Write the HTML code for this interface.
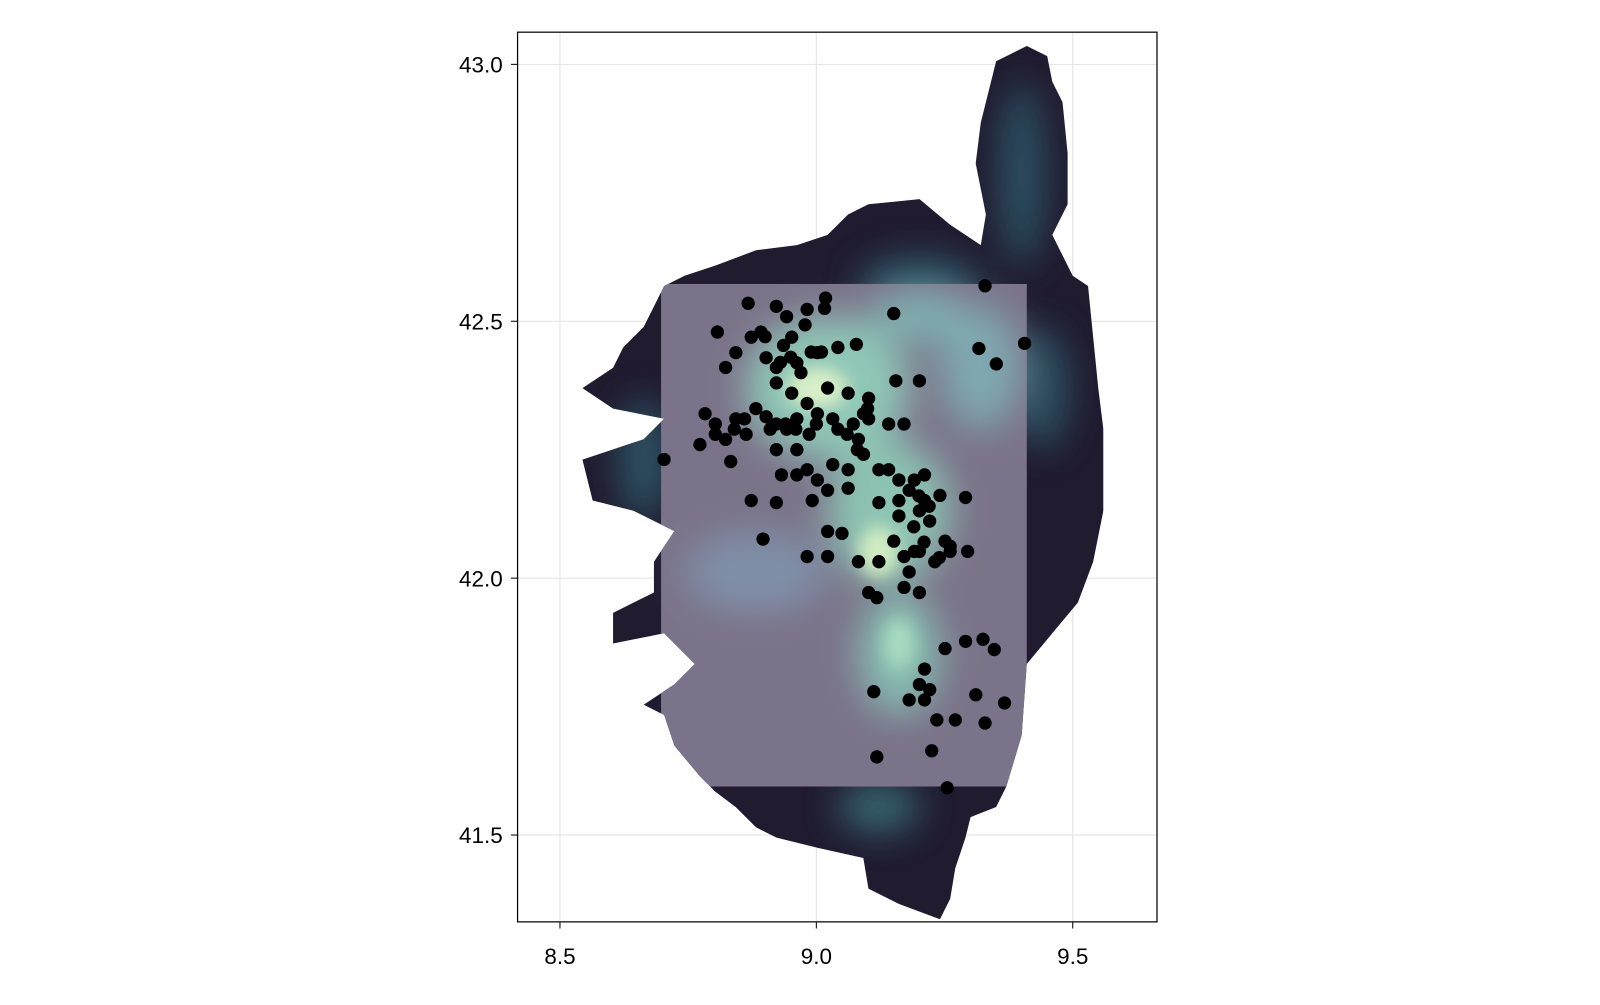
<!DOCTYPE html>
<html><head><meta charset="utf-8"><style>
body{margin:0;background:#fff;width:1600px;height:1000px;overflow:hidden;font-family:"Liberation Sans",sans-serif}
</style></head><body>
<svg id="chart" width="1600" height="1000" viewBox="0 0 1566 979" xmlns="http://www.w3.org/2000/svg">
<defs>
<clipPath id="island"><polygon id="outline" points="975,60 1005,45 1025,55 1030,80 1040,100 1045,150 1045,200 1030,230 1050,270 1065,280 1070,330 1075,380 1080,420 1080,500 1070,550 1055,590 1030,620 1005,650 1000,720 985,770 975,790 950,800 945,820 935,850 930,880 920,900 880,885 850,870 845,840 800,830 760,820 740,810 720,790 700,775 685,760 660,730 650,700 630,690 660,670 680,650 650,620 600,630 600,600 640,580 640,550 660,520 620,500 580,490 570,450 630,430 650,410 600,400 570,380 600,360 610,340 630,320 650,280 670,270 700,260 740,245 780,240 810,230 830,210 850,200 900,195 930,220 960,240 965,210 955,160 960,120 970,80"/></clipPath>
<filter id="blur" x="-50%" y="-50%" width="200%" height="200%"><feGaussianBlur stdDeviation="18"/></filter>
<filter id="blur2" x="-50%" y="-50%" width="200%" height="200%"><feGaussianBlur stdDeviation="8"/></filter>
</defs>
<g stroke="#e2e2e2" stroke-width="1" id="grid"></g>
<g clip-path="url(#island)">
<rect x="500" y="30" width="640" height="880" fill="#211b30"/>
<g filter="url(#blur)" opacity="0.9">
<ellipse cx="1000" cy="170" rx="22" ry="90" fill="#2f5a6a"/>
<ellipse cx="900" cy="280" rx="60" ry="30" fill="#2f5a6a"/>
<ellipse cx="1020" cy="380" rx="25" ry="60" fill="#2f5a6a"/>
<ellipse cx="630" cy="450" rx="25" ry="60" fill="#2f5a6a"/>
<ellipse cx="860" cy="790" rx="40" ry="25" fill="#3a6f7a"/>
</g>
<rect x="647" y="278" width="358" height="492" fill="#7b7389"/>
<g filter="url(#blur)">
<ellipse cx="810" cy="380" rx="80" ry="70" fill="#8fc7b7"/>
<ellipse cx="870" cy="500" rx="60" ry="70" fill="#8cc3b3"/>
<ellipse cx="880" cy="640" rx="40" ry="60" fill="#86bcb1"/>
<ellipse cx="960" cy="360" rx="40" ry="60" fill="#7fa8b0"/>
<ellipse cx="740" cy="560" rx="70" ry="40" fill="#7f8fa8"/>
<ellipse cx="900" cy="310" rx="50" ry="25" fill="#7fb0b0"/>
</g>
<g filter="url(#blur2)">
<ellipse cx="800" cy="380" rx="30" ry="20" fill="#d8efc8"/>
<ellipse cx="860" cy="540" rx="20" ry="25" fill="#d0ecc2"/>
<ellipse cx="880" cy="630" rx="15" ry="25" fill="#a8dcc0"/>
</g>
</g>
<rect x="506.5" y="31.5" width="626" height="871" fill="none" stroke="#000" stroke-width="1.2"/>
<g id="points"></g>
<g id="axes" font-size="22" fill="#000"></g>
</svg>
<script>
const xTicks=[8.5,9.0,9.5];
const xTickLabels=["8.5","9.0","9.5"];
const yTicks=[41.5,42.0,42.5,43.0];
const yTickLabels=["41.5","42.0","42.5","43.0"];
const lon=[8.867,8.807,8.942,8.982,9.018,9.016,8.978,8.936,8.902,8.843,8.823,8.873,8.892,8.922,8.962,9.002,9.042,9.078,8.922,8.952,8.982,9.022,9.062,9.102,9.141,9.171,8.882,8.843,8.803,8.783,8.823,8.863,8.922,8.962,9.002,9.042,9.082,9.102,8.922,8.962,8.982,9.002,9.032,9.062,9.092,9.122,8.703,8.833,8.932,8.962,8.873,8.922,8.992,9.022,9.062,9.122,9.161,9.211,9.181,9.241,9.291,9.201,9.161,9.221,9.251,9.261,9.201,9.171,9.151,9.022,8.982,9.022,9.082,9.122,9.181,9.201,9.171,9.102,9.118,8.896,9.050,9.295,9.151,9.155,9.201,9.329,9.406,9.317,9.351,9.251,9.291,9.325,9.347,9.211,9.201,9.181,9.211,9.221,9.311,9.367,9.112,9.235,9.271,9.329,9.118,9.225,9.255,9.191,9.231,9.261,9.141,9.161,9.191,9.211,8.922,8.952,9.092,9.072,8.902,8.942,8.986,8.803,8.773,9.032,8.93,8.95,8.97,8.91,8.94,8.96,9.0,9.06,9.08,9.10,9.2,9.22,9.19,9.21,9.24,8.99,9.01,8.9,8.86,8.84];
const lat=[42.535,42.479,42.509,42.523,42.545,42.525,42.493,42.453,42.429,42.439,42.410,42.469,42.479,42.410,42.419,42.439,42.449,42.455,42.380,42.360,42.340,42.370,42.360,42.350,42.300,42.300,42.330,42.310,42.300,42.320,42.270,42.280,42.300,42.310,42.320,42.290,42.270,42.310,42.250,42.250,42.211,42.191,42.221,42.211,42.241,42.211,42.231,42.227,42.201,42.201,42.151,42.147,42.151,42.171,42.175,42.147,42.151,42.201,42.171,42.161,42.157,42.131,42.121,42.111,42.072,42.052,42.052,42.042,42.072,42.091,42.042,42.042,42.032,42.032,42.012,41.972,41.982,41.972,41.962,42.076,42.087,42.052,42.515,42.384,42.384,42.569,42.457,42.447,42.417,41.863,41.877,41.881,41.861,41.823,41.793,41.763,41.763,41.783,41.773,41.757,41.779,41.724,41.724,41.718,41.652,41.664,41.592,42.052,42.032,42.062,42.211,42.191,42.191,42.151,42.529,42.469,42.320,42.300,42.314,42.290,42.280,42.280,42.260,42.310,42.42,42.43,42.40,42.29,42.30,42.29,42.3,42.28,42.25,42.33,42.16,42.14,42.10,42.07,42.04,42.44,42.44,42.47,42.31,42.29];
const NS="http://www.w3.org/2000/svg";
const sx=v=>799+(v-9)*502;
const sy=v=>566-(v-42)*503;
const grid=document.getElementById('grid'),axes=document.getElementById('axes'),pts=document.getElementById('points');
function mk(t,a){const e=document.createElementNS(NS,t);for(const k in a)e.setAttribute(k,a[k]);return e;}
xTicks.forEach((t,i)=>{const x=sx(t);
 const g=mk('line',{x1:x,x2:x,y1:32,y2:902});grid.appendChild(g);
 const tk=mk('line',{x1:x,x2:x,y1:903,y2:909,stroke:'#000'});axes.appendChild(tk);
 const l=mk('text',{x:x,y:944,'text-anchor':'middle'});l.textContent=xTickLabels[i];axes.appendChild(l);});
yTicks.forEach((t,i)=>{const y=sy(t);
 const g=mk('line',{x1:507,x2:1132,y1:y,y2:y});grid.appendChild(g);
 const tk=mk('line',{x1:500,x2:506,y1:y,y2:y,stroke:'#000'});axes.appendChild(tk);
 const l=mk('text',{x:492,y:y+8,'text-anchor':'end'});l.textContent=yTickLabels[i];axes.appendChild(l);});
lon.forEach((v,i)=>{const c=mk('circle',{cx:sx(v),cy:sy(lat[i]),r:6.5,fill:'#000'});
 
 
 pts.appendChild(c);});
</script>
</body></html>
